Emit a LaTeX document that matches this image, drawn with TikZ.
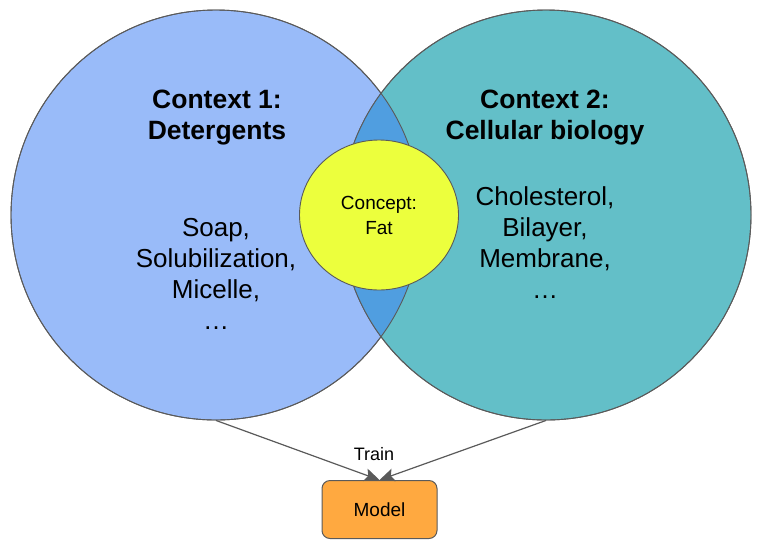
\documentclass[tikz,border=0pt]{standalone}
\usepackage{fontspec}
\setmainfont{Liberation Sans}
\usetikzlibrary{arrows.meta,shapes.geometric}
\definecolor{ctxone}{RGB}{153,187,249}
\definecolor{ctxtwo}{RGB}{99,191,200}
\definecolor{lensc}{RGB}{80,158,224}
\definecolor{concept}{RGB}{236,255,61}
\definecolor{modelc}{RGB}{255,169,64}
\definecolor{edgec}{RGB}{90,90,90}
\tikzset{
  ctx/.style={circle, minimum size=410pt, inner sep=0pt, draw=edgec, line width=0.9pt},
  title/.style={align=center, font=\fontsize{26.5}{31}\selectfont\bfseries},
  words/.style={align=center, font=\fontsize{26}{31}\selectfont},
  small/.style={align=center, font=\fontsize{19}{25}\selectfont},
  link/.style={draw=edgec, line width=1.2pt, -{Stealth[length=15pt,width=13pt,inset=3pt]}},
}
\begin{document}
\begin{tikzpicture}[x=1pt,y=-1pt]
\useasboundingbox (0,0) rectangle (773,555);
\node[ctx, fill=ctxone] (c1) at (216,215) {};
\node[ctx, fill=ctxtwo] (c2) at (546,215) {};
\begin{scope}
  \clip (c1.center) circle[radius=205pt];
  \fill[lensc] (c2.center) circle[radius=205pt];
\end{scope}
\draw[edgec, line width=0.9pt] (c1.center) circle[radius=205pt];
\draw[edgec, line width=0.9pt] (c2.center) circle[radius=205pt];
\node[ellipse, minimum width=159pt, minimum height=150pt, inner sep=0pt, fill=concept, draw=edgec, line width=0.9pt] (fat) at (379,215) {};
\node[small] (fatt) at (379,215) {Concept:\\Fat};
\node[title] (t1) at (217,118) {Context 1:\\Detergents};
\node[title] (t2) at (545,118) {Context 2:\\Cellular biology};
\node[words] (w1) at (216,274) {Soap,\\Solubilization,\\Micelle,\\…};
\node[words] (w2) at (545,243) {Cholesterol,\\Bilayer,\\Membrane,\\…};
\node[rounded corners=8pt, draw=edgec, line width=1pt, fill=modelc, minimum width=115pt, minimum height=58pt, font=\fontsize{19}{22}\selectfont] (model) at (379.5,509.5) {Model};
\node[font=\fontsize{18}{22}\selectfont] (train) at (374,454) {Train};
\draw[link] (c1.south) -- (model.north);
\draw[link] (c2.south) -- (model.north);
\end{tikzpicture}
\end{document}
